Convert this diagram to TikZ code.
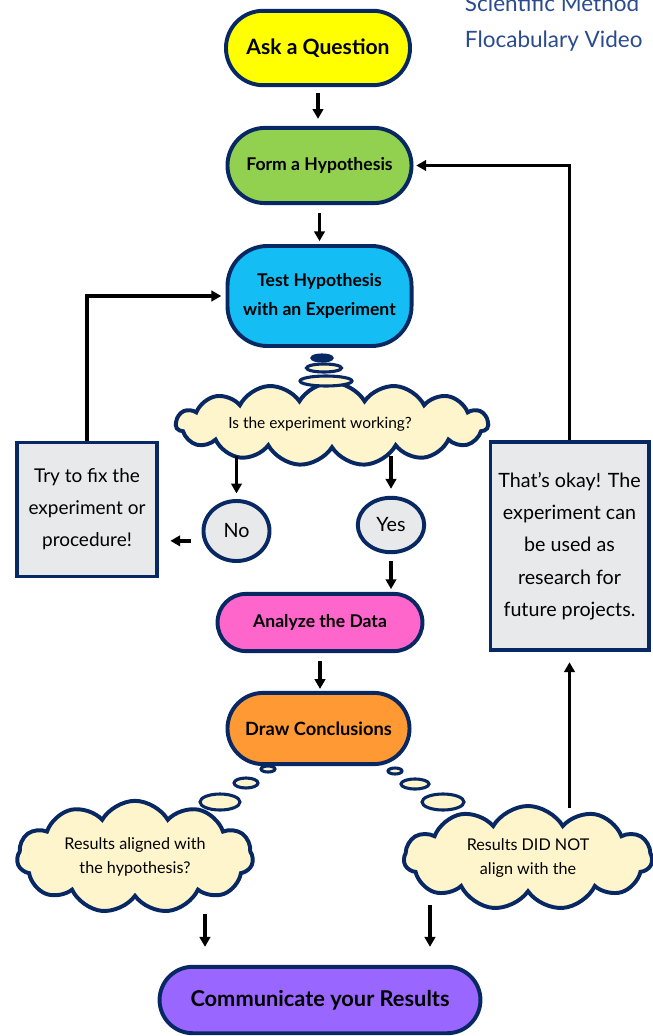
\documentclass[tikz,border=0pt]{standalone}
\usepackage{fontspec}
\setmainfont{Lato}
\usetikzlibrary{shapes.geometric,shapes.symbols,arrows.meta}

\definecolor{navy}{RGB}{8,40,100}
\definecolor{titleblue}{HTML}{2A4B8D}
\definecolor{askyellow}{HTML}{FFFF00}
\definecolor{formgreen}{HTML}{92D050}
\definecolor{testblue}{HTML}{14BEF5}
\definecolor{analyzepink}{HTML}{FF66CC}
\definecolor{concorange}{HTML}{FF9933}
\definecolor{commpurple}{HTML}{9966FF}
\definecolor{boxgray}{HTML}{E7E9EB}
\definecolor{cream}{HTML}{FFF5CC}

\begin{document}
\begin{tikzpicture}[x=0.025cm,y=-0.025cm,
  stage/.style={draw=navy,line width=2.8pt,align=center,inner sep=0pt,font=\bfseries\fontsize{12.5}{20.6}\selectfont},
  note/.style={draw=navy,line width=2.8pt,fill=boxgray,align=center,inner sep=0pt,font=\fontsize{13.5}{22.8}\selectfont},
  answer/.style={ellipse,draw=navy,line width=2.8pt,fill=boxgray,inner sep=0pt,font=\fontsize{14}{16}\selectfont},
  thought/.style={cloud,draw=navy,line width=2.8pt,fill=cream,align=center,inner sep=0pt,cloud puff arc=120},
  bubble/.style={draw=navy,line width=2.2pt,fill=cream},
  flow/.style={-{Triangle[length=7pt,width=7.5pt]},line width=2.4pt}]
\useasboundingbox (0,0) rectangle (652,1036);

% title
\node [anchor=base west,text=titleblue,font=\fontsize{16}{18}\selectfont] (title1) at (460,12) {Scientific Method};
\node [anchor=base west,text=titleblue,font=\fontsize{16}{18}\selectfont] (title2) at (460,48) {Flocabulary Video};

% main steps
\node [stage,fill=askyellow,rounded corners=0.93cm,minimum width=4.6cm,minimum height=1.86cm,font=\bfseries\fontsize{15}{18}\selectfont] (ask) at (318,48) {Ask a Question};
\node [stage,fill=formgreen,rounded corners=0.94cm,minimum width=4.6cm,minimum height=1.88cm] (form) at (319.5,165.5) {Form a Hypothesis};
\node [stage,fill=testblue,rounded corners=1cm,minimum width=4.6cm,minimum height=2.5cm] (test) at (319.5,296) {Test Hypothesis\\with an Experiment};
\node [stage,fill=analyzepink,rounded corners=0.71cm,minimum width=5.12cm,minimum height=1.43cm] (analyze) at (320,622.5) {Analyze the Data};
\node [stage,fill=concorange,rounded corners=0.89cm,minimum width=4.55cm,minimum height=1.78cm,font=\bfseries\fontsize{13}{16}\selectfont] (concl) at (318.5,728.5) {Draw Conclusions};
\node [stage,fill=commpurple,rounded corners=0.83cm,minimum width=8.02cm,minimum height=1.66cm,font=\bfseries\fontsize{15.5}{18}\selectfont] (comm) at (320,1000) {Communicate your Results};

% thoughts
\node [thought,cloud puffs=15,aspect=6,minimum width=7.8cm,minimum height=1.55cm,font=\fontsize{11}{14}\selectfont] (working) at (332,424) {Is the experiment working?\hspace{17pt}};
\node [thought,cloud puffs=11,aspect=2.4,minimum width=5.9cm,minimum height=2.4cm,font=\fontsize{11.5}{17}\selectfont] (aligned) at (135,857) {Results aligned with\\the hypothesis?};
\node [thought,cloud puffs=11,aspect=2.4,minimum width=6.2cm,minimum height=2.6cm,font=\fontsize{11.5}{17}\selectfont] (notaligned) at (528,858) {Results DID NOT\\align with the};

\draw [bubble,fill=navy] (322,358) ellipse [x radius=10,y radius=3];
\draw [bubble] (324,368) ellipse [x radius=17.5,y radius=4];
\draw [bubble] (326,381) ellipse [x radius=26,y radius=5];
\draw [bubble] (268,769) ellipse [x radius=7,y radius=3];
\draw [bubble] (246,783) ellipse [x radius=12,y radius=5];
\draw [bubble] (220,802) ellipse [x radius=20,y radius=8];
\draw [bubble] (395,771) ellipse [x radius=7,y radius=3];
\draw [bubble] (415,784) ellipse [x radius=14,y radius=5];
\draw [bubble] (443,802) ellipse [x radius=21,y radius=8];

% answers and notes
\node [answer,minimum width=1.65cm,minimum height=1.5cm] (no) at (236.5,531) {No};
\node [answer,minimum width=1.66cm,minimum height=1.36cm] (yes) at (391,525) {Yes};
\node [note,minimum width=3.52cm,minimum height=3.35cm] (fix) at (87,509.5) {Try to fix the\\experiment or\\procedure!};
\node [note,minimum width=3.95cm,minimum height=5.22cm,font=\fontsize{14}{23}\selectfont] (okay) at (569.5,546) {That’s okay! The\\experiment can\\be used as\\research for\\future projects.};

% arrows
\draw [flow,shorten <=4pt,shorten >=5pt] (ask.south) -- (ask.south |- form.north);
\draw [flow,shorten <=5.7pt,shorten >=2pt] (form.south) -- (form.south |- test.north);
\draw [flow,shorten <=4pt,shorten >=4pt] (working.south -| no) -- (no.north);
\draw [flow,shorten <=4pt,shorten >=5pt] (working.south -| yes) -- (yes.north);
\coordinate (no-out) at ([yshift=-7pt]no.west);
\draw [flow,shorten <=7.8pt,shorten >=7.8pt] (no-out) -- (no-out -| fix.east);
\draw [flow,shorten <=5pt,shorten >=2pt] (yes.south) -- (yes.south |- analyze.north);
\draw [flow,shorten <=5.7pt,shorten >=1.4pt] (analyze.south) -- (analyze.south |- concl.north);
\draw [flow,shorten >=3pt] (fix.north) |- (test.west);
\draw [flow,shorten >=2pt] (okay.north) |- (form.east);
\draw [flow,shorten <=-3pt,shorten >=7pt] (okay.south |- notaligned.north) -- (okay.south);
\coordinate (left-in) at ([xshift=-81.8pt]comm.north);
\coordinate (right-in) at ([xshift=78.2pt]comm.north);
\draw [flow,shorten <=11pt,shorten >=12.8pt] (left-in |- aligned.south) -- (left-in);
\draw [flow,shorten <=7.5pt,shorten >=12.8pt] (right-in |- notaligned.south) -- (right-in);

\end{tikzpicture}
\end{document}
